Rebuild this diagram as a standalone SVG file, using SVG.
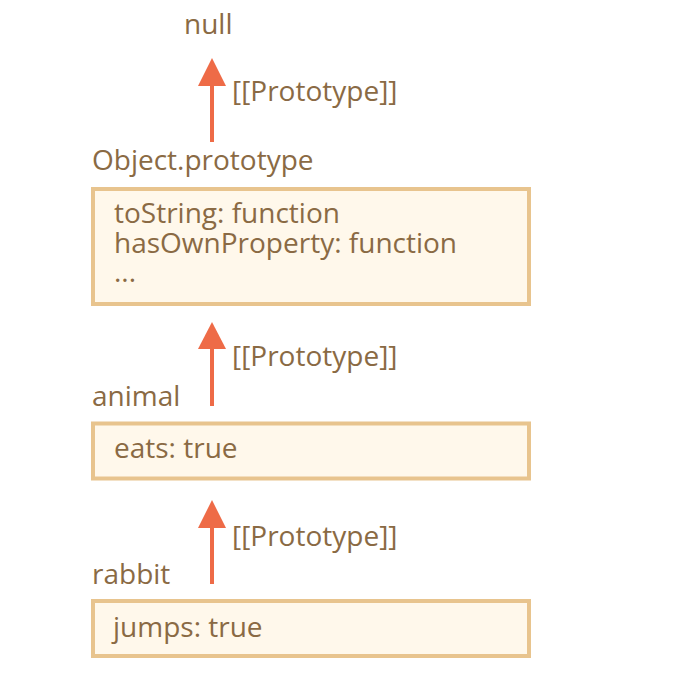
<svg xmlns="http://www.w3.org/2000/svg" width="679" height="683" viewBox="0 0 679 683">
<defs>
<style>
text{font-family:"Open Sans","Noto Sans","Liberation Sans",sans-serif;font-size:28px;fill:#8A6A44}
.box{fill:#FFF8EB;stroke:#E8C48E;stroke-width:4}
.conn line{stroke:#EE6B47;stroke-width:4}
.conn polygon{fill:#EE6B47}
</style>
</defs>
<rect width="679" height="683" fill="#FFFFFF"/>
<g id="null"><text x="184" y="34">null</text></g>
<g id="objectPrototype">
<text x="92" y="170">Object.prototype</text>
<rect class="box" x="93" y="189" width="436" height="115"/>
<text x="114" y="223">toString: function</text>
<text x="114" y="252.5">hasOwnProperty: function</text>
<text x="114" y="282">...</text>
</g>
<g id="animal">
<text x="92" y="406">animal</text>
<rect class="box" x="93" y="423.5" width="436" height="55"/>
<text x="114" y="458">eats: true</text>
</g>
<g id="rabbit">
<text x="92" y="584">rabbit</text>
<rect class="box" x="93" y="601" width="436" height="55"/>
<text x="113" y="637">jumps: true</text>
</g>
<g class="conn" id="connectors">
<line x1="212" y1="142" x2="212" y2="84"/><polygon points="212,58 198,86 226,86"/>
<text x="232" y="101">[[Prototype]]</text>
<line x1="212" y1="406" x2="212" y2="347"/><polygon points="212,322 198,349 226,349"/>
<text x="232" y="366">[[Prototype]]</text>
<line x1="212" y1="584" x2="212" y2="525"/><polygon points="212,500 198,528 226,528"/>
<text x="232" y="546">[[Prototype]]</text>
</g>
</svg>
